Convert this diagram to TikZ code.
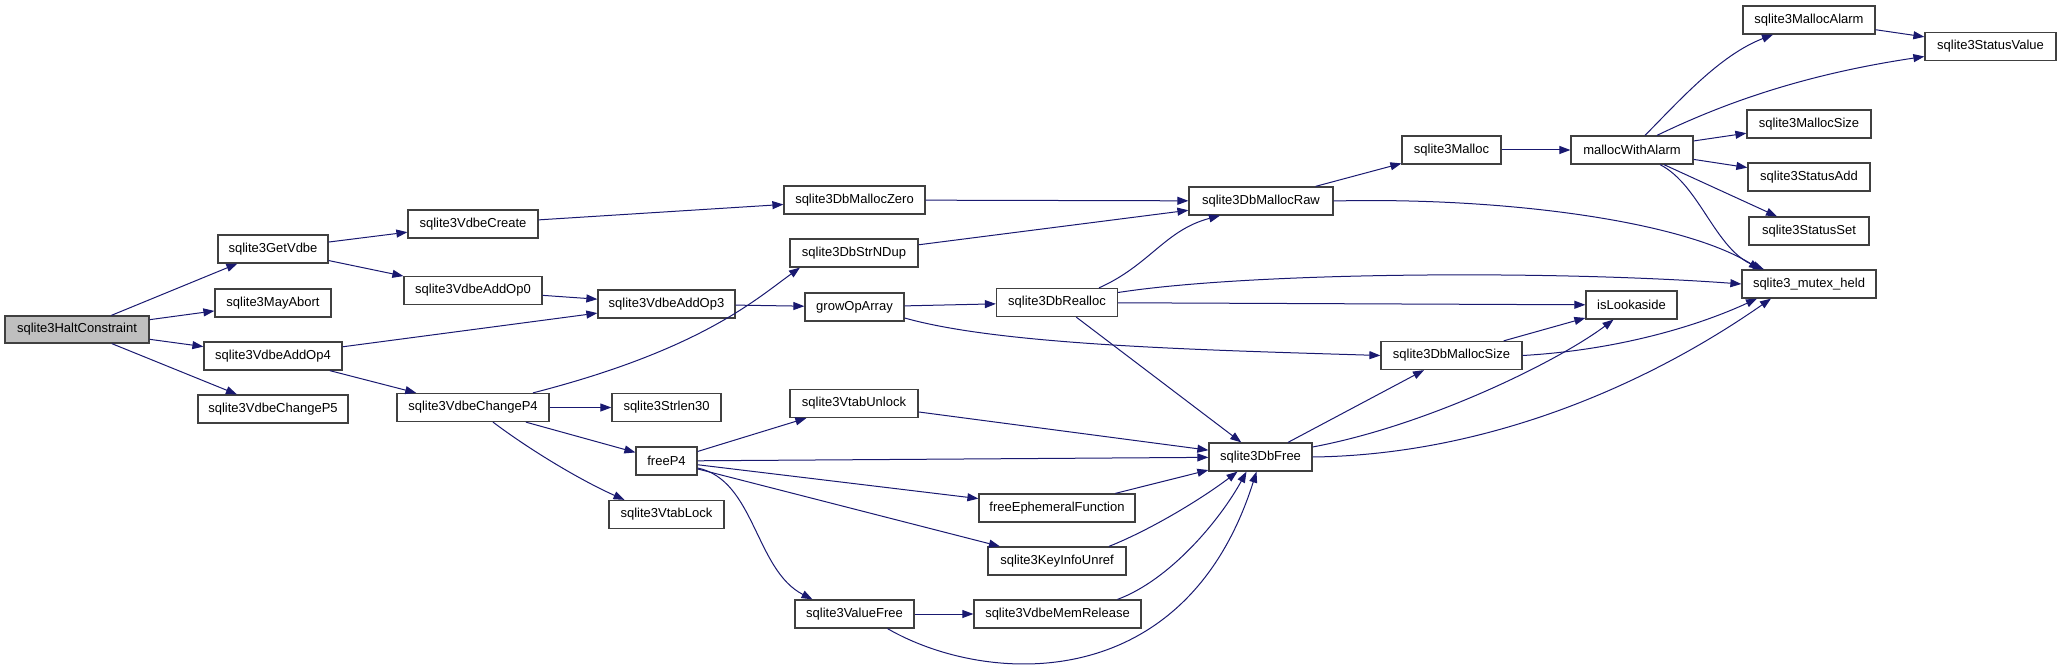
\documentclass[tikz,border=0pt]{standalone}
\usepackage{fontspec}
\setmainfont{Liberation Sans}
\usetikzlibrary{arrows.meta}
\definecolor{edgeblue}{HTML}{191970}
\definecolor{boxline}{HTML}{404040}
\definecolor{rootfill}{HTML}{BFBFBF}
\begin{document}
\begin{tikzpicture}[x=1pt,y=-1pt,
  box/.style={draw=boxline, line width=1.25pt, minimum height=28pt, inner sep=0pt, font=\fontsize{13}{15}\selectfont},
  e/.style={draw=edgeblue, line width=1pt, -{Triangle[length=11pt,width=8pt,fill=edgeblue]}}]
\useasboundingbox (0,0) rectangle (2061,668);
% nodes
\node[box, fill=rootfill, minimum width=144pt, minimum height=27pt] (halt) at (77,329.5) {sqlite3HaltConstraint};
\node[box, minimum width=110pt] (getvdbe) at (273,249) {sqlite3GetVdbe};
\node[box, minimum width=116pt] (mayabort) at (273,303) {sqlite3MayAbort};
\node[box, minimum width=138pt] (addop4) at (273,356) {sqlite3VdbeAddOp4};
\node[box, minimum width=150pt] (changep5) at (273,409) {sqlite3VdbeChangeP5};
\node[box, minimum width=130pt] (vdbecreate) at (473,224) {sqlite3VdbeCreate};
\node[box, minimum width=138pt] (addop0) at (473,290.5) {sqlite3VdbeAddOp0};
\node[box, minimum width=152pt] (changep4) at (473,407.5) {sqlite3VdbeChangeP4};
\node[box, minimum width=137pt] (addop3) at (666.5,304) {sqlite3VdbeAddOp3};
\node[box, minimum width=109pt] (strlen30) at (666.5,407.5) {sqlite3Strlen30};
\node[box, minimum width=61pt] (freep4) at (666.5,461) {freeP4};
\node[box, minimum width=115pt] (vtablock) at (666.5,514.5) {sqlite3VtabLock};
\node[box, minimum width=141pt] (dbmalloczero) at (854.5,200) {sqlite3DbMallocZero};
\node[box, minimum width=128pt] (dbstrndup) at (854,253) {sqlite3DbStrNDup};
\node[box, minimum width=99pt] (growoparray) at (854.5,307) {growOpArray};
\node[box, minimum width=128pt] (vtabunlock) at (854,403.5) {sqlite3VtabUnlock};
\node[box, minimum width=119pt] (valuefree) at (854.5,614) {sqlite3ValueFree};
\node[box, minimum width=121pt] (dbrealloc) at (1057,302.5) {sqlite3DbRealloc};
\node[box, minimum width=156pt] (freeeph) at (1057,508) {freeEphemeralFunction};
\node[box, minimum width=138pt] (keyinfo) at (1057,561) {sqlite3KeyInfoUnref};
\node[box, minimum width=167pt] (memrelease) at (1057.5,614) {sqlite3VdbeMemRelease};
\node[box, minimum width=144pt] (dbmallocraw) at (1261,201) {sqlite3DbMallocRaw};
\node[box, minimum width=103pt] (dbfree) at (1260.5,457) {sqlite3DbFree};
\node[box, minimum width=99pt] (malloc) at (1451.5,150) {sqlite3Malloc};
\node[box, minimum width=141pt] (dbmallocsize) at (1451.5,355.5) {sqlite3DbMallocSize};
\node[box, minimum width=122pt] (mallocwithalarm) at (1632,150) {mallocWithAlarm};
\node[box, minimum width=91pt] (islookaside) at (1631.5,305) {isLookaside};
\node[box, minimum width=132pt] (mallocalarm) at (1809,20) {sqlite3MallocAlarm};
\node[box, minimum width=124pt] (mallocsize) at (1809,124) {sqlite3MallocSize};
\node[box, minimum width=122pt] (statusadd) at (1809,177) {sqlite3StatusAdd};
\node[box, minimum width=120pt] (statusset) at (1809,231) {sqlite3StatusSet};
\node[box, minimum width=134pt] (mutexheld) at (1809,284) {sqlite3\_mutex\_held};
\node[box, minimum width=131pt] (statusvalue) at (1990.5,46.5) {sqlite3StatusValue};
% straight edges
\draw[e] (halt) -- (getvdbe);
\draw[e] (halt) -- (mayabort);
\draw[e] (halt) -- (addop4);
\draw[e] (halt) -- (changep5);
\draw[e] (getvdbe) -- (vdbecreate);
\draw[e] (getvdbe) -- (addop0);
\draw[e] (addop0) -- (addop3);
\draw[e] (addop4) -- (addop3);
\draw[e] (addop4) -- (changep4);
\draw[e] (vdbecreate) -- (dbmalloczero);
\draw[e] (addop3) -- (growoparray);
\draw[e] (changep4) -- (strlen30);
\draw[e] (changep4) -- (freep4);
\draw[e] (dbmalloczero) -- (dbmallocraw);
\draw[e] (dbstrndup) -- (dbmallocraw);
\draw[e] (growoparray) -- (dbrealloc);
\draw[e] (dbrealloc) -- (islookaside);
\draw[e] (dbrealloc) -- (dbfree);
\draw[e] (dbmallocraw) -- (malloc);
\draw[e] (malloc) -- (mallocwithalarm);
\draw[e] (mallocwithalarm) -- (mallocsize);
\draw[e] (mallocwithalarm) -- (statusadd);
\draw[e] (mallocwithalarm) -- (statusset);
\draw[e] (mallocalarm) -- (statusvalue);
\draw[e] (dbmallocsize) -- (islookaside);
\draw[e] (dbfree) -- (dbmallocsize);
\draw[e] (freep4) -- (vtabunlock);
\draw[e] (freep4) -- (dbfree);
\draw[e] (freep4) -- (freeeph);
\draw[e] (freep4) -- (keyinfo);
\draw[e] (vtabunlock) -- (dbfree);
\draw[e] (freeeph) -- (dbfree);
\draw[e] (valuefree) -- (memrelease);
% curved edges
\draw[e] ([xshift=60pt]changep4.north) .. controls (700,350) and (755,300) .. ([xshift=-54pt]dbstrndup.south);
\draw[e] ([xshift=20pt]changep4.south) .. controls (530,450) and (580,480) .. ([xshift=-42pt]vtablock.north);
\draw[e] ([yshift=-11pt]growoparray.east) .. controls (1000,345) and (1200,350) .. (dbmallocsize.west);
\draw[e] ([xshift=42pt]dbrealloc.north) .. controls (1150,265) and (1165,230) .. ([xshift=-41pt]dbmallocraw.south);
\draw[e] ([yshift=10pt]dbrealloc.east) .. controls (1250,272) and (1550,270) .. (mutexheld.west);
\draw[e] (dbmallocraw.east) .. controls (1500,197) and (1680,220) .. ([xshift=-49pt]mutexheld.north);
\draw[e] ([xshift=13pt]mallocwithalarm.north) .. controls (1680,100) and (1720,55) .. ([xshift=-36pt]mallocalarm.south);
\draw[e] ([xshift=25pt]mallocwithalarm.north) .. controls (1720,105) and (1800,75) .. ([yshift=-10pt]statusvalue.west);
\draw[e] ([xshift=28pt]mallocwithalarm.south) .. controls (1700,185) and (1715,250) .. ([xshift=-45pt]mutexheld.north);
\draw[e] (dbmallocsize.east) .. controls (1620,350) and (1700,325) .. ([xshift=-52pt]mutexheld.south);
\draw[e] ([yshift=10pt]dbfree.east) .. controls (1430,425) and (1560,360) .. ([xshift=-18pt]islookaside.south);
\draw[e] (dbfree.east) .. controls (1480,455) and (1640,390) .. ([xshift=-38pt]mutexheld.south);
\draw[e] ([yshift=-7pt]freep4.east) .. controls (755,480) and (755,570) .. ([xshift=-42pt]valuefree.north);
\draw[e] ([xshift=52pt]keyinfo.north) .. controls (1150,530) and (1200,500) .. ([xshift=-23pt]dbfree.south);
\draw[e] ([xshift=33pt]valuefree.south) .. controls (985,685) and (1185,698) .. ([xshift=-4pt]dbfree.south);
\draw[e] ([xshift=60pt]memrelease.north) .. controls (1170,580) and (1220,520) .. ([xshift=-14pt]dbfree.south);
\end{tikzpicture}
\end{document}
